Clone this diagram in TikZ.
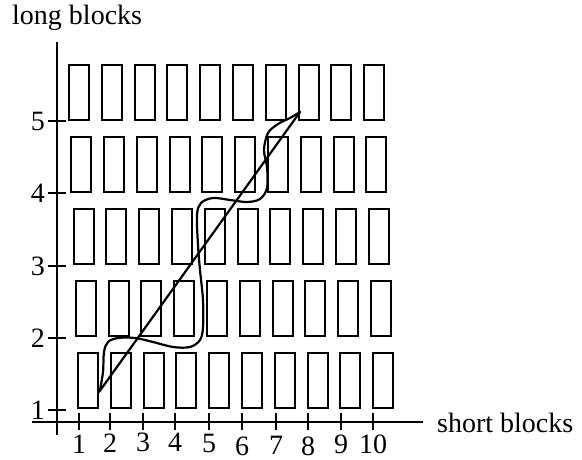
\documentclass[tikz,border=0pt]{standalone}
\usepackage{fontspec}
\setmainfont{Liberation Serif}
\begin{document}
\begin{tikzpicture}[x=1pt,y=-1pt,
  blk/.style={draw, line width=2pt, minimum width=20pt, minimum height=55pt, inner sep=0pt, outer sep=0pt},
  ax/.style={line width=2pt},
  tk/.style={line width=2pt},
  lbl/.style={font=\fontsize{28}{30}\selectfont, inner sep=0pt},
  crv/.style={line width=2.2pt, line join=round, line cap=round}]
\useasboundingbox (0,0) rectangle (582,460);
% blocks
\foreach \r in {1,...,5}{
  \foreach \c in {1,...,10}{
    \pgfmathsetmacro{\bx}{round(78-2.25*(\r-1)+32.8*(\c-1))+10}
    \pgfmathsetmacro{\by}{353-72*(\r-1)+27.5}
    \node[blk] (b\r-\c) at (\bx,\by) {};
  }
}
% axes
\coordinate (yb) at (57,435);
\coordinate (yt) at (57,42);
\coordinate (xl) at (32,422);
\coordinate (xr) at (423,422);
\draw[ax] (yb) -- (yt);
\draw[ax] (xl) -- (xr);
% y ticks
\foreach \k/\yy in {1/410,2/338,3/266,4/193,5/121}{
  \draw[tk] (48,\yy) -- (66,\yy);
  \node[lbl, anchor=east] (ylab\k) at (45,\yy) {\k};
}
% x ticks
\foreach \k/\xx/\bb in {1/79/453,2/110/452,3/143/451,4/175/451,5/209/452,6/242/455,7/276/454,8/308/455,9/341/453,10/373/453}{
  \draw[tk] (\xx,413) -- (\xx,430);
  \node[lbl, anchor=base] (xlab\k) at (\xx,\bb) {\k};
}
% axis labels
\node[lbl, anchor=base west] (ytitle) at (12,25) {long blocks};
\node[lbl, anchor=base west] (xtitle) at (437,432) {short blocks};
% straight path
\coordinate (s) at (99,392);
\coordinate (e) at (300,112);
\draw[crv] (s) -- (e);
% wavy path
\draw[crv] plot[smooth, tension=0.55] coordinates {
  (100,390) (103,372) (104,352) (108,342) (118,338) (135,338) (153,342)
  (173,347) (190,347) (200,340) (203,327) (203,300) (200,270) (198,245)
  (197,215) (201,203) (213,198) (230,200) (247,202) (260,199) (267,188)
  (267,167) (264,150) (268,133) (278,124) (290,118) (300,112)};
\end{tikzpicture}
\end{document}
